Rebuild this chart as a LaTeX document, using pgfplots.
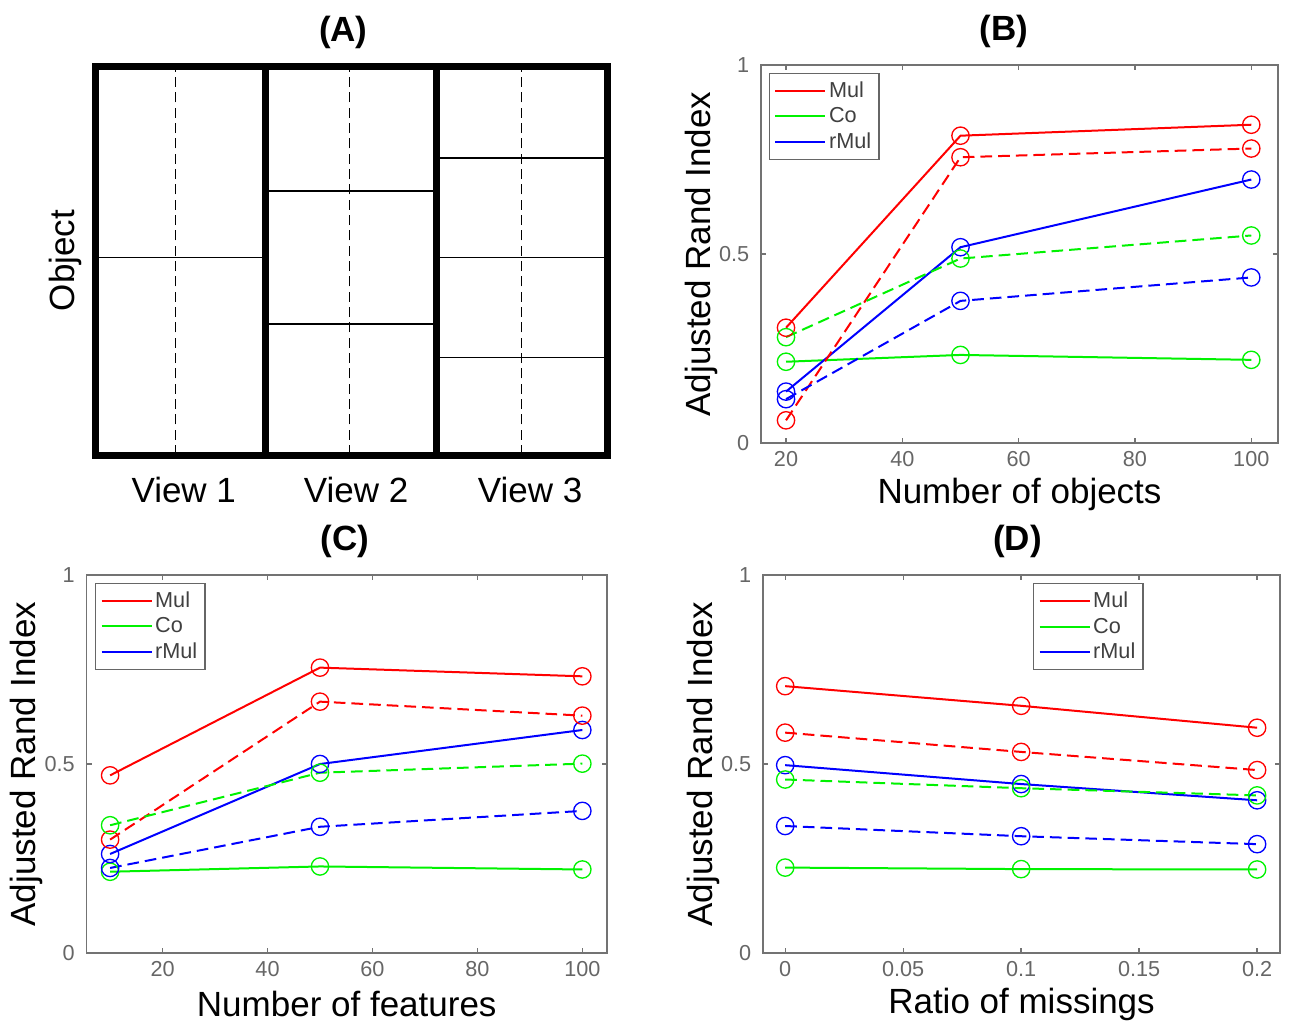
\documentclass[border=0pt]{standalone}
\usepackage{fontspec}
\setmainfont{Liberation Sans}
\usepackage{pgfplots}
\pgfplotsset{compat=1.18}

\definecolor{mred}{rgb}{1,0,0}
\definecolor{mgreen}{rgb}{0,0.95,0}
\definecolor{mblue}{rgb}{0,0,1}

\pgfplotsset{
  panel/.style={
    scale only axis, width=155.1pt, height=113.4pt,
    ymin=0, ymax=1, ytick={0,0.5,1}, yticklabels={0,0.5,1},
    axis line style={black!55}, tick style={black!55, line width=0.4pt},
    tick align=inside, major tick length=1.6pt,
    ticklabel style={font=\fontsize{6.5}{7}\selectfont, text=black!60},
    xticklabel style={yshift=1pt},
    label style={font=\fontsize{10.5}{12}\selectfont},
    title style={font=\fontsize{10.5}{12}\selectfont\bfseries, at={(axis description cs:0.47,1)}, anchor=center, yshift=4.2pt},
    ylabel={Adjusted Rand Index},
    ylabel style={at={(axis description cs:-0.115,0.5)}, anchor=center},
    xlabel style={at={(axis description cs:0.5,-0.135)}, anchor=center},
    legend cell align=left,
    legend style={font=\fontsize{6.5}{7}\selectfont, draw=black!60, fill=white,
      inner sep=1.5pt, row sep=0pt,
      nodes={inner sep=0.8pt, text height=5pt, text depth=1pt, text=black!75}},
    legend image code/.code={\draw[#1,mark=none] (0pt,0pt) -- (15pt,0pt);},
  },
  sol/.style={line width=0.6pt, mark=o, mark size=2.6pt, mark options={solid, line width=0.4pt}},
  dsh/.style={sol, dash pattern=on 3.5pt off 1.8pt},
}

\begin{document}
\begin{tikzpicture}
\useasboundingbox (0,0) rectangle (387pt,306pt);

% (A) layout diagram
\begin{axis}[at={(28.5pt,169.5pt)}, anchor=south west,
  scale only axis, width=153.6pt, height=116.7pt,
  xmin=0, xmax=3, ymin=0, ymax=1, clip=false,
  axis line style={draw=none}, tick style={draw=none},
  ytick=\empty, xtick={0.52,1.53,2.55}, xticklabels={View 1,View 2,View 3},
  major tick length=0pt,
  xticklabel style={font=\fontsize{10.5}{12}\selectfont, yshift=-3.2pt},
  ylabel={Object},
  ylabel style={at={(axis description cs:-0.0586,0.5)}, anchor=center, font=\fontsize{10.5}{12}\selectfont},
  title={(A)},
  title style={font=\fontsize{10.5}{12}\selectfont\bfseries, at={(axis description cs:0.485,1)}, anchor=center, yshift=4.2pt},
]
\addplot[black, line width=0.45pt] coordinates {(0,0.508) (1,0.508)};
\addplot[black, line width=0.45pt] coordinates {(1,0.679) (2,0.679)};
\addplot[black, line width=0.45pt] coordinates {(1,0.337) (2,0.337)};
\addplot[black, line width=0.45pt] coordinates {(2,0.763) (3,0.763)};
\addplot[black, line width=0.45pt] coordinates {(2,0.508) (3,0.508)};
\addplot[black, line width=0.45pt] coordinates {(2,0.251) (3,0.251)};
\addplot[black, line width=0.45pt, dash pattern=on 3pt off 1.6pt] coordinates {(0.472,0) (0.472,1)};
\addplot[black, line width=0.45pt, dash pattern=on 3pt off 1.6pt] coordinates {(1.491,0) (1.491,1)};
\addplot[black, line width=0.45pt, dash pattern=on 3pt off 1.6pt] coordinates {(2.50,0) (2.50,1)};
\addplot[black, line width=2.1pt, line join=miter, line cap=rect] coordinates {(0,0) (3,0) (3,1) (0,1) (0,0)};
\addplot[black, line width=2.1pt] coordinates {(1,0) (1,1)};
\addplot[black, line width=2.1pt] coordinates {(2,0) (2,1)};
\end{axis}

% (B) number of objects
\begin{axis}[panel, at={(228.3pt,173.1pt)}, anchor=south west,
  xmin=15.7, xmax=104.6, xtick={20,40,60,80,100}, xticklabels={20,40,60,80,100},
  xlabel={Number of objects}, title={(B)},
  legend style={at={(0.015,0.98)}, anchor=north west}]
\addplot[sol, mred] coordinates {(20,0.305) (50,0.813) (100,0.842)};
\addlegendentry{Mul}
\addplot[sol, mgreen] coordinates {(20,0.215) (50,0.233) (100,0.220)};
\addlegendentry{Co}
\addplot[sol, mblue] coordinates {(20,0.136) (50,0.518) (100,0.697)};
\addlegendentry{rMul}
\addplot[dsh, mred, forget plot] coordinates {(20,0.060) (50,0.756) (100,0.779)};
\addplot[dsh, mgreen, forget plot] coordinates {(20,0.280) (50,0.488) (100,0.549)};
\addplot[dsh, mblue, forget plot] coordinates {(20,0.116) (50,0.376) (100,0.438)};
\end{axis}

% (C) number of features
\begin{axis}[panel, at={(25.95pt,20.1pt)}, anchor=south west, width=156.15pt,
  xmin=5.5, xmax=104.7, xtick={20,40,60,80,100}, xticklabels={20,40,60,80,100},
  xlabel={Number of features}, title={(C)},
  title style={at={(axis description cs:0.497,1)}},
  legend style={at={(0.016,0.98)}, anchor=north west}]
\addplot[sol, mred] coordinates {(10,0.470) (50,0.755) (100,0.732)};
\addlegendentry{Mul}
\addplot[sol, mgreen] coordinates {(10,0.215) (50,0.229) (100,0.221)};
\addlegendentry{Co}
\addplot[sol, mblue] coordinates {(10,0.262) (50,0.500) (100,0.590)};
\addlegendentry{rMul}
\addplot[dsh, mred, forget plot] coordinates {(10,0.300) (50,0.665) (100,0.628)};
\addplot[dsh, mgreen, forget plot] coordinates {(10,0.338) (50,0.477) (100,0.501)};
\addplot[dsh, mblue, forget plot] coordinates {(10,0.225) (50,0.334) (100,0.376)};
\end{axis}

% (D) ratio of missings
\begin{axis}[panel, at={(228.9pt,20.1pt)}, anchor=south west,
  xmin=-0.0094, xmax=0.2097, xtick={0,0.05,0.1,0.15,0.2}, xticklabels={0,0.05,0.1,0.15,0.2},
  xlabel={Ratio of missings}, title={(D)},
  title style={at={(axis description cs:0.492,1)}},
  legend style={at={(0.522,0.979)}, anchor=north west}]
\addplot[sol, mred] coordinates {(0,0.706) (0.1,0.654) (0.2,0.596)};
\addlegendentry{Mul}
\addplot[sol, mgreen] coordinates {(0,0.226) (0.1,0.222) (0.2,0.221)};
\addlegendentry{Co}
\addplot[sol, mblue] coordinates {(0,0.497) (0.1,0.447) (0.2,0.404)};
\addlegendentry{rMul}
\addplot[dsh, mred, forget plot] coordinates {(0,0.583) (0.1,0.532) (0.2,0.484)};
\addplot[dsh, mgreen, forget plot] coordinates {(0,0.459) (0.1,0.436) (0.2,0.417)};
\addplot[dsh, mblue, forget plot] coordinates {(0,0.336) (0.1,0.309) (0.2,0.288)};
\end{axis}
\end{tikzpicture}
\end{document}
